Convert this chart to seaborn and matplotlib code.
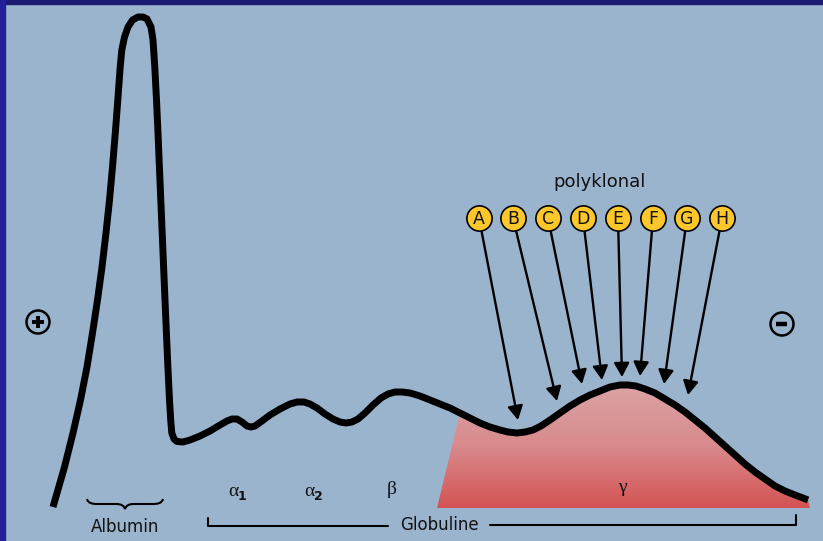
import numpy as np
import matplotlib
matplotlib.use('Agg')
import matplotlib.pyplot as plt
import seaborn as sns
from matplotlib.patches import Polygon, Circle, Rectangle, PathPatch
from matplotlib.path import Path
from matplotlib.colors import LinearSegmentedColormap

# ---- Daten (Bildkoordinaten, y nach unten) ----
curve_x = [53, 55, 64.5, 73, 80.5, 87, 92.5, 97.5, 102, 106, 109.5, 112.5, 115.3, 117.8, 120.2,
           121.8, 124.5, 128, 132.5, 138, 143, 147, 151, 153, 154.8, 156.5, 158, 159.4, 160.8,
           162.2, 163.6, 165, 166.4, 167.9, 169.5, 170.7, 171.8, 174, 177, 183, 190, 200, 210,
           220, 227, 232, 237, 242, 247, 251, 255, 262, 270, 280, 290, 297, 304, 310, 317, 325,
           333, 340, 346, 352, 358, 365, 373, 381, 388, 395, 402, 410, 420, 430, 440, 450, 460,
           470, 480, 490, 500, 508, 517, 525, 533, 541, 550, 560, 570, 580, 590, 600, 610, 620,
           628, 636, 645, 655, 665, 675, 685, 695, 705, 715, 725, 735, 745, 755, 765, 775, 785,
           795, 803, 808]
curve_y = [507, 500, 467, 433, 400, 367, 333, 300, 267, 233, 200, 167, 133, 100, 67,
           50, 37, 27, 20, 17, 17, 19, 27, 40, 67, 100, 133, 167, 200,
           233, 267, 300, 333, 367, 400, 420, 433, 439, 441.5, 442, 440, 436, 431,
           425, 421, 419, 419, 422, 426, 427, 426, 421, 415, 409, 404, 402, 402, 404, 408, 414,
           419, 422, 423, 422, 419, 413, 405, 398, 394, 392, 392, 393, 396, 400, 404, 408, 413,
           418, 423, 427, 430, 432, 433, 432, 430, 426, 420, 413, 406, 400, 395, 391, 387, 385,
           385, 386, 389, 393, 399, 405, 412, 420, 428, 437, 446, 455, 464, 472, 479, 486, 491,
           495, 498, 500]

clone_labels = ['A', 'B', 'C', 'D', 'E', 'F', 'G', 'H']
clone_x = [479, 513, 548, 583, 618, 653, 687, 722]
clone_y = [218] * 8
tip_x = [518, 557, 582, 602, 622, 640, 664, 688]
tip_y = [420, 401, 384, 380, 377, 376, 384, 395]

fraction_labels = ['α', 'α', 'β', 'γ']
fraction_sub = ['1', '2', '', '']
fraction_x = [233, 309, 392, 622]
fraction_y = [492, 492, 490, 488]

gamma_start = 460      # ab hier rot gefüllt
fill_left_x = 437
fill_bottom_y = 508

bg = '#9bb4cd'

sns.set_theme(style='white')
plt.rcParams['font.family'] = ['DejaVu Sans']

fig = plt.figure(figsize=(8.23, 5.41), dpi=100)
fig.patch.set_facecolor(bg)
ax = fig.add_axes([0, 0, 1, 1])
ax.set_facecolor(bg)

# ---- Gamma-Bereich mit Farbverlauf ----
verts = [(fill_left_x, fill_bottom_y)]
verts += [(x, y) for x, y in zip(curve_x, curve_y) if x >= gamma_start]
verts += [(curve_x[-1] + 2, fill_bottom_y)]
poly = Polygon(verts, closed=True, facecolor='none', edgecolor='none')
ax.add_patch(poly)
cmap = LinearSegmentedColormap.from_list('gam', ['#dba4a6', '#d88a8c', '#d45353'])
grad = np.linspace(0, 1, 256).reshape(-1, 1)
im = ax.imshow(grad, extent=[fill_left_x, 812, fill_bottom_y, 383], cmap=cmap,
               aspect='auto', origin='upper', zorder=1)
im.set_clip_path(poly)

# ---- Kurve ----
sns.lineplot(x=curve_x, y=curve_y, sort=False, estimator=None, color='black', lw=5,
             solid_joinstyle='round', solid_capstyle='butt', ax=ax, zorder=3)

# ---- Pfeile und Kreise (polyklonal) ----
r = 12.5
for cx, cy, tx, ty in zip(clone_x, clone_y, tip_x, tip_y):
    d = np.hypot(tx - cx, ty - cy)
    sx, sy = cx + r * (tx - cx) / d, cy + r * (ty - cy) / d
    ax.annotate('', xy=(tx, ty), xytext=(sx, sy),
                arrowprops=dict(arrowstyle='-|>,head_length=0.6,head_width=0.33',
                                mutation_scale=14, lw=1.7, color='black',
                                shrinkA=0, shrinkB=0), zorder=4)
sns.scatterplot(x=clone_x, y=clone_y, s=330, color='#fcc72a', edgecolor='black',
                linewidth=1.2, ax=ax, zorder=5)
for lab, cx, cy in zip(clone_labels, clone_x, clone_y):
    ax.text(cx, cy + 0.5, lab, ha='center', va='center', fontsize=12.5, color='#111111', zorder=6)
ax.text(600, 182, 'polyklonal', ha='center', va='center', fontsize=13, color='#111111')

# ---- Fraktionen ----
for lab, sub, x, y in zip(fraction_labels, fraction_sub, fraction_x, fraction_y):
    ax.text(x, y, lab, ha='center', va='center', fontsize=14, family='Liberation Serif',
            color='#111111')
    if sub:
        ax.text(x + 9, y + 4, sub, ha='center', va='center', fontsize=9, fontweight='bold',
                color='#111111')

# ---- Albumin-Klammer ----
brace = Path([(87, 499), (88, 503), (92, 504), (97, 504), (116, 504), (122, 504), (124, 506),
              (125, 509), (126, 506), (128, 504), (134, 504), (153, 504), (158, 504), (162, 503),
              (163, 499)],
             [Path.MOVETO, Path.CURVE4, Path.CURVE4, Path.CURVE4, Path.LINETO, Path.CURVE4,
              Path.CURVE4, Path.CURVE4, Path.CURVE4, Path.CURVE4, Path.CURVE4, Path.LINETO,
              Path.CURVE4, Path.CURVE4, Path.CURVE4])
ax.add_patch(PathPatch(brace, facecolor='none', edgecolor='black', lw=1.5))
ax.text(125, 527, 'Albumin', ha='center', va='center', fontsize=12, color='#111111')

# ---- Globulin-Klammer ----
ax.plot([208, 208, 388], [518, 526, 526], color='black', lw=1.5)
ax.plot([490, 796, 796], [525, 525, 515], color='black', lw=1.5)
ax.text(439, 525, 'Globuline', ha='center', va='center', fontsize=12, color='#111111')

# ---- Pole ----
ax.add_patch(Circle((38, 322), 11.5, fill=False, ec='black', lw=1.8))
ax.plot([32, 44], [322, 322], color='black', lw=2.8, solid_capstyle='butt')
ax.plot([38, 38], [316, 328], color='black', lw=2.8, solid_capstyle='butt')
ax.add_patch(Circle((782, 324), 11.5, fill=False, ec='black', lw=1.8))
ax.plot([776.5, 787.5], [324, 324], color='black', lw=3.2, solid_capstyle='butt')

# ---- Rahmen ----
ax.add_patch(Rectangle((0, 0), 823, 4, color='#1c1a70', zorder=10))
ax.add_patch(Rectangle((0, 0), 5, 541, color='#24209a', zorder=10))

ax.set_xlim(0, 823)
ax.set_ylim(541, 0)
ax.set_axis_off()

fig.savefig('out.png', dpi=100, facecolor=bg)
